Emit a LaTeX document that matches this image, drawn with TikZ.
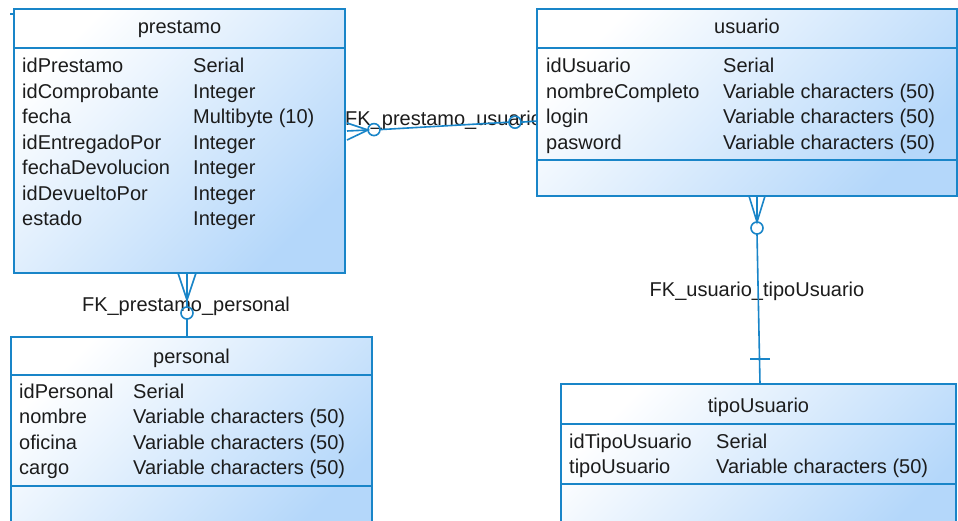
\documentclass[tikz,border=0pt]{standalone}
\usepackage{fontspec}
\setmainfont{Liberation Sans}
\definecolor{bordc}{RGB}{25,133,200}
\definecolor{fillc}{RGB}{180,215,250}
\definecolor{txtc}{RGB}{28,28,28}
\tikzset{
  tbl/.style={draw=bordc, line width=1.6pt, top color=white, bottom color=fillc, shading angle=45, anchor=north west, inner sep=0pt, outer sep=0pt},
  fld/.style={anchor=base west, inner sep=0pt, text=txtc, font=\fontsize{20}{24}\selectfont},
  ttl/.style={anchor=base, inner sep=0pt, text=txtc, font=\fontsize{20}{24}\selectfont},
  lbl/.style={inner sep=0pt, text=txtc, font=\fontsize{20}{24}\selectfont},
  conn/.style={draw=bordc, line width=1.6pt},
  optc/.style={circle, draw=bordc, line width=1.6pt, minimum size=12pt, inner sep=0pt, outer sep=0pt},
  sepline/.style={draw=bordc, line width=1.6pt}
}
\begin{document}
\begin{tikzpicture}[x=1pt,y=-1pt]
\clip (0,0) rectangle (958,521);
\fill[white] (0,0) rectangle (958,521);

% ---------- connector labels ----------
\node[lbl, anchor=base west] (l1) at (345,126) {FK\_prestamo\_usuario};
\node[lbl, anchor=base] (l2) at (186,311) {FK\_prestamo\_personal};
\node[lbl, anchor=base] (l3) at (757,297) {FK\_usuario\_tipoUsuario};

% ---------- connector prestamo -> usuario ----------
\coordinate (c1e1) at (347,123);
\coordinate (c1e2) at (347,131);
\coordinate (c1e3) at (347,140);
\coordinate (c1m) at (368,130);
\node[optc] (c1o1) at (374,129.6) {};
\node[optc] (c1o2) at (515,122.2) {};
\coordinate (c1u) at (537,121);
\draw[conn] (c1e1) -- (c1m) -- (c1e3);
\draw[conn] (c1e2) -- (c1m) -- (c1o1.west);
\draw[conn] (c1o1.east) -- (c1o2.west);
\draw[conn] (c1o2.east) -- (c1u);

% ---------- connector prestamo -> personal ----------
\coordinate (c2e1) at (178,273);
\coordinate (c2e2) at (187,273);
\coordinate (c2e3) at (196,273);
\coordinate (c2m) at (187,300);
\node[optc] (c2o) at (187,313) {};
\coordinate (c2p) at (187,337);
\draw[conn] (c2e1) -- (c2m) -- (c2e3);
\draw[conn] (c2e2) -- (c2m) -- (c2o.north);
\draw[conn] (c2o.south) -- (c2p);

% ---------- connector usuario -> tipoUsuario ----------
\coordinate (c3e1) at (749,196);
\coordinate (c3e2) at (757,196);
\coordinate (c3e3) at (765,196);
\coordinate (c3m) at (757,222);
\node[optc] (c3o) at (757,228) {};
\coordinate (c3t) at (760,384);
\coordinate (c3k1) at (750,359);
\coordinate (c3k2) at (770,359);
\draw[conn] (c3e1) -- (c3m) -- (c3e3);
\draw[conn] (c3e2) -- (c3m);
\draw[conn] (c3o.south) -- (c3t);
\draw[conn] (c3k1) -- (c3k2);

% small tick top-left
\coordinate (tk1) at (10,14);
\coordinate (tk2) at (20,14);
\draw[conn] (tk1) -- (tk2);

% ---------- tables ----------
\node[tbl, minimum width=331pt, minimum height=264pt] (prestamo) at (14,9) {};
\draw[sepline] (14,48) -- (345,48);
\node[ttl] (prestamoT) at (179.5,34) {prestamo};
\node[fld] (p1a) at (22,73) {idPrestamo};        \node[fld] (p1b) at (193,73) {Serial};
\node[fld] (p2a) at (22,98.5) {idComprobante};   \node[fld] (p2b) at (193,98.5) {Integer};
\node[fld] (p3a) at (22,124) {fecha};            \node[fld] (p3b) at (193,124) {Multibyte (10)};
\node[fld] (p4a) at (22,149.5) {idEntregadoPor}; \node[fld] (p4b) at (193,149.5) {Integer};
\node[fld] (p5a) at (22,175) {fechaDevolucion};  \node[fld] (p5b) at (193,175) {Integer};
\node[fld] (p6a) at (22,200.5) {idDevueltoPor};  \node[fld] (p6b) at (193,200.5) {Integer};
\node[fld] (p7a) at (22,226) {estado};           \node[fld] (p7b) at (193,226) {Integer};

\node[tbl, minimum width=420pt, minimum height=187pt] (usuario) at (537,9) {};
\draw[sepline] (537,48) -- (957,48);
\draw[sepline] (537,160) -- (957,160);
\node[ttl] (usuarioT) at (747,34) {usuario};
\node[fld] (u1a) at (546,73) {idUsuario};       \node[fld] (u1b) at (723,73) {Serial};
\node[fld] (u2a) at (546,98.5) {nombreCompleto}; \node[fld] (u2b) at (723,98.5) {Variable characters (50)};
\node[fld] (u3a) at (546,124) {login};          \node[fld] (u3b) at (723,124) {Variable characters (50)};
\node[fld] (u4a) at (546,149.5) {pasword};      \node[fld] (u4b) at (723,149.5) {Variable characters (50)};

\node[tbl, minimum width=361pt, minimum height=200pt] (personal) at (11,337) {};
\draw[sepline] (11,375) -- (372,375);
\draw[sepline] (11,486) -- (372,486);
\node[ttl] (personalT) at (191.5,363) {personal};
\node[fld] (r1a) at (19,398) {idPersonal}; \node[fld] (r1b) at (133,398) {Serial};
\node[fld] (r2a) at (19,423.5) {nombre};   \node[fld] (r2b) at (133,423.5) {Variable characters (50)};
\node[fld] (r3a) at (19,449) {oficina};    \node[fld] (r3b) at (133,449) {Variable characters (50)};
\node[fld] (r4a) at (19,474.5) {cargo};    \node[fld] (r4b) at (133,474.5) {Variable characters (50)};

\node[tbl, minimum width=395pt, minimum height=160pt] (tipoUsuario) at (561,384) {};
\draw[sepline] (561,424) -- (956,424);
\draw[sepline] (561,484) -- (956,484);
\node[ttl] (tipoUsuarioT) at (758.5,412) {tipoUsuario};
\node[fld] (t1a) at (569,448) {idTipoUsuario}; \node[fld] (t1b) at (716,448) {Serial};
\node[fld] (t2a) at (569,473.5) {tipoUsuario}; \node[fld] (t2b) at (716,473.5) {Variable characters (50)};
\end{tikzpicture}
\end{document}
